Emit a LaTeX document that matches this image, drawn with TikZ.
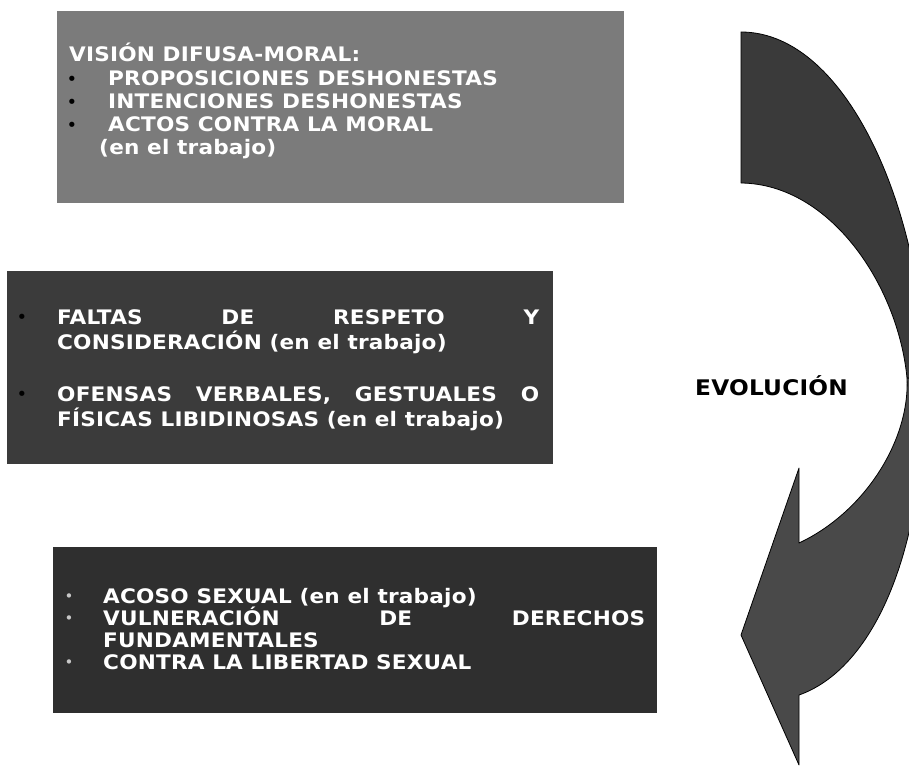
\documentclass[tikz,border=0pt]{standalone}
\usepackage{fontspec}
\newfontfamily\vb{DejaVu Sans}[FakeStretch=1.08,LetterSpace=1]
\newfontfamily\bulf{DejaVu Sans}
\definecolor{boxA}{HTML}{7B7B7B}
\definecolor{boxB}{HTML}{3B3B3B}
\definecolor{boxC}{HTML}{2F2F2F}
\definecolor{arrUp}{HTML}{3A3A3A}
\definecolor{arrLo}{HTML}{494949}
\definecolor{bulC}{HTML}{C8C8C8}
\begin{document}
\begin{tikzpicture}[x=1pt,y=-1pt,
  panel/.style={draw=none, inner sep=0pt, anchor=north west},
  txt/.style={inner sep=0pt, anchor=base west, text=white, font=\vb\bfseries\fontsize{20}{22}\selectfont},
  bul/.style={inner sep=0pt, anchor=center, text=black, font=\bulf\fontsize{18}{18}\selectfont},
  bulw/.style={inner sep=0pt, anchor=center, text=bulC, font=\bulf\fontsize{15}{15}\selectfont},
  arrowpart/.style={draw=black, line width=0.8pt, line join=round}]
\useasboundingbox (0,0) rectangle (909,767);
\fill[white] (0,0) rectangle (909,767);
\clip (0,0) rectangle (909,767);

% panels
\node[panel, fill=boxA, minimum width=567pt, minimum height=192pt] (p1) at (57,11) {};
\node[panel, fill=boxB, minimum width=546pt, minimum height=193pt] (p2) at (7,271) {};
\node[panel, fill=boxC, minimum width=604pt, minimum height=166pt] (p3) at (53,547) {};

% panel 1 text
\node[txt] (a0) at (69,62) {VISIÓN DIFUSA-MORAL:};
\node[bul] (ab1) at (72,81) {•};
\node[txt] (a1) at (108,86) {PROPOSICIONES DESHONESTAS};
\node[bul] (ab2) at (72,104) {•};
\node[txt] (a2) at (108,109) {INTENCIONES DESHONESTAS};
\node[bul] (ab3) at (72,127) {•};
\node[txt] (a3) at (108,132) {ACTOS CONTRA LA MORAL};
\node[txt] (a4) at (99,155) {(en el trabajo)};

% panel 2 text
\node[bul] (bb1) at (22,319) {•};
\node[txt] (b1) at (57,324) {\hbox to 482pt{FALTAS\hfill DE\hfill RESPETO\hfill Y}};
\node[txt] (b2) at (57,349) {CONSIDERACIÓN (en el trabajo)};
\node[bul] (bb2) at (22,396) {•};
\node[txt] (b3) at (57,401) {\hbox to 482pt{OFENSAS\hfill VERBALES,\hfill GESTUALES\hfill O}};
\node[txt] (b4) at (57,426) {FÍSICAS LIBIDINOSAS (en el trabajo)};

% panel 3 text
\node[bulw] (cb1) at (69,598) {•};
\node[txt] (c1) at (103,603) {ACOSO SEXUAL (en el trabajo)};
\node[bulw] (cb2) at (69,620) {•};
\node[txt] (c2) at (103,625) {\hbox to 542pt{VULNERACIÓN\hfill DE\hfill DERECHOS}};
\node[txt] (c3) at (103,647) {FUNDAMENTALES};
\node[bulw] (cb3) at (69,664) {•};
\node[txt] (c4) at (103,669) {CONTRA LA LIBERTAD SEXUAL};

% curved arrow
\filldraw[arrowpart, fill=arrUp] (741,32) .. controls (850,32) and (925,220) .. (925,380)
  -- (907,378) .. controls (898,285) and (830,184) .. (741,183) -- cycle;
\filldraw[arrowpart, fill=arrLo] (907,378) .. controls (910,440) and (865,512) .. (799,543)
  -- (799,468) -- (741,635) -- (799,765) -- (799,695)
  .. controls (870,670) and (925,560) .. (925,380) -- cycle;

\node[inner sep=0pt, anchor=base, text=black, font=\vb\bfseries\fontsize{21.5}{24}\selectfont] (evo) at (771.5,395) {EVOLUCIÓN};
\end{tikzpicture}
\end{document}
